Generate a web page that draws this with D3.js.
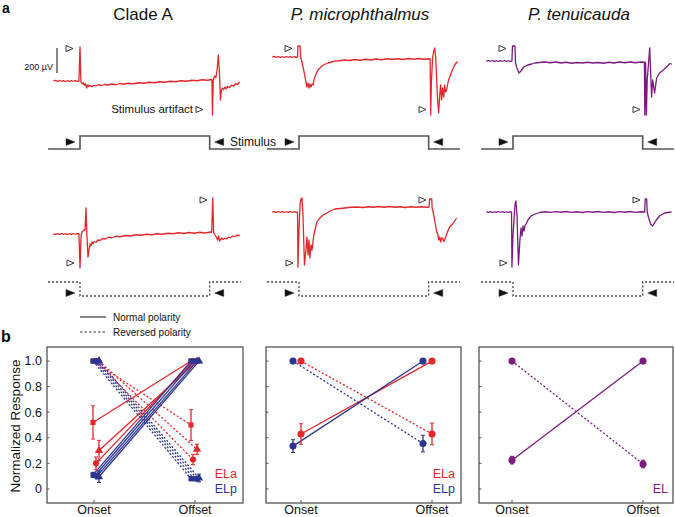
<!DOCTYPE html>
<html><head><meta charset="utf-8">
<script src="https://cdn.jsdelivr.net/npm/d3@7"></script>
<style>body{margin:0;background:#fff} svg{display:block;font-family:"Liberation Sans",Arial,sans-serif}</style>
</head><body><svg id="c" width="675" height="517"></svg>
<script>
// ---------------- DATA ----------------
const columnTitles = ["Clade A", "P. microphthalmus", "P. tenuicauda"];
const titleItalic = [false, true, true];
// recorded traces: [time (ms, stimulus-artifact onset = 0), voltage (µV rel. baseline)]
const cladeA_normal = [[-200,0],[-185,5],[-170,-3],[-155,4],[-140,-2],[-125,3],[-110,-4],[-95,2],[-80,-3],[-65,4],[-50,-2],[-35,3],[-20,-3],[-8,0],[0,272],[7,-8],[15,-22],[24,-14],[32,-34],[40,-20],[50,-56],[58,-30],[68,-44],[78,-36],[90,-46],[105,-34],[120,-40],[140,-30],[160,-36],[185,-28],[210,-32],[240,-24],[270,-30],[300,-20],[330,-26],[360,-18],[400,-22],[440,-14],[480,-18],[520,-10],[560,-14],[600,-6],[640,-10],[680,-2],[720,-6],[760,2],[800,-2],[840,6],[880,2],[920,10],[960,6],[988,12],[992,8],[996,-272],[1002,10],[1012,40],[1022,28],[1032,100],[1040,208],[1048,80],[1056,-152],[1063,-72],[1072,-56],[1080,-70],[1090,-48],[1100,-62],[1112,-44],[1125,-52],[1140,-34],[1155,-40],[1170,-22],[1185,-26],[1200,-6]];
const micro_normal = [[-200,0],[-185,4],[-170,-3],[-155,3],[-140,-4],[-125,2],[-110,-3],[-95,4],[-80,-2],[-65,3],[-50,-4],[-35,2],[-20,-2],[-11,0],[-8,88],[8,88],[12,0],[22,-40],[38,-120],[52,-200],[60,-240],[68,-208],[75,-248],[82,-216],[90,-240],[98,-216],[106,-224],[112,-184],[128,-136],[142,-104],[158,-88],[172,-72],[195,-58],[218,-48],[245,-40],[270,-32],[300,-30],[345,-24],[380,-28],[420,-20],[460,-26],[500,-18],[540,-24],[580,-16],[620,-22],[660,-14],[700,-20],[740,-14],[780,-20],[820,-12],[860,-18],[900,-12],[940,-18],[975,-14],[986,-16],[990,-464],[996,-184],[1005,0],[1012,40],[1020,72],[1028,-8],[1042,-344],[1050,-448],[1058,-304],[1065,-224],[1072,-344],[1080,-248],[1088,-320],[1095,-224],[1102,-280],[1110,-264],[1118,-216],[1125,-184],[1140,-140],[1155,-100],[1170,-64],[1185,-44],[1195,-36]];
const tenui_normal = [[-200,0],[-185,3],[-170,-2],[-155,4],[-140,-3],[-125,2],[-110,-4],[-95,3],[-80,-2],[-65,4],[-50,-3],[-35,2],[-20,-3],[-8,0],[-4,120],[15,120],[19,-16],[30,-56],[45,-96],[60,-80],[82,-48],[112,-32],[140,-24],[165,-16],[200,-12],[240,-8],[280,-14],[320,-8],[360,-16],[400,-10],[440,-18],[480,-12],[520,-16],[560,-10],[600,-16],[640,-12],[680,-18],[720,-10],[760,-16],[800,-8],[840,-14],[880,-8],[920,-14],[960,-8],[988,-10],[991,-432],[997,-10],[1003,-432],[1009,-152],[1028,104],[1042,-288],[1050,-152],[1065,-256],[1080,-136],[1102,-96],[1130,-72],[1155,-48],[1180,-20],[1195,-26]];
const cladeA_reversed = [[-200,0],[-185,-4],[-170,3],[-155,-3],[-140,4],[-125,-2],[-110,3],[-95,-4],[-80,2],[-65,-3],[-50,4],[-35,-2],[-20,3],[-8,0],[0,-272],[8,-16],[15,16],[30,32],[38,32],[45,208],[52,-8],[60,-184],[68,-128],[75,-80],[82,-96],[90,-64],[98,-78],[105,-60],[120,-66],[135,-48],[150,-52],[170,-36],[190,-40],[215,-26],[240,-30],[270,-18],[300,-22],[340,-12],[380,-16],[420,-6],[460,-10],[500,-2],[540,-6],[580,2],[620,-2],[660,6],[700,2],[740,10],[780,4],[820,12],[860,6],[900,14],[940,8],[980,16],[990,14],[998,288],[1005,8],[1020,-16],[1035,-48],[1042,-16],[1050,-56],[1065,-32],[1075,-44],[1088,-34],[1100,-40],[1115,-24],[1130,-30],[1150,-16],[1165,-22],[1180,-10],[1200,-12]];
const micro_reversed = [[-200,0],[-185,3],[-170,-3],[-155,4],[-140,-2],[-125,3],[-110,-4],[-95,2],[-80,-3],[-65,4],[-50,-2],[-35,3],[-20,-3],[-11,0],[-8,-440],[0,-144],[8,60],[15,104],[22,112],[30,-24],[41,-424],[52,-304],[60,-200],[68,-344],[75,-224],[82,-368],[90,-264],[98,-304],[106,-230],[112,-184],[125,-120],[135,-80],[150,-56],[172,-32],[195,-16],[210,-8],[240,12],[270,24],[310,28],[345,32],[390,38],[435,40],[480,36],[520,42],[560,38],[600,44],[640,38],[680,44],[720,38],[760,42],[800,36],[840,42],[880,38],[920,42],[960,38],[978,40],[982,104],[998,104],[1001,32],[1005,16],[1020,-64],[1035,-160],[1042,-168],[1050,-224],[1058,-200],[1065,-240],[1072,-210],[1080,-208],[1088,-236],[1095,-224],[1110,-176],[1132,-120],[1155,-96],[1170,-72],[1185,-48]];
const tenui_reversed = [[-200,0],[-185,-3],[-170,3],[-155,-4],[-140,2],[-125,-3],[-110,4],[-95,-2],[-80,3],[-65,-4],[-50,2],[-35,-3],[-20,3],[-11,0],[-8,-440],[0,-184],[15,56],[22,88],[30,-24],[41,-424],[52,-224],[60,-128],[68,-192],[75,-112],[82,-152],[90,-110],[98,-96],[112,-64],[135,-32],[165,-16],[202,-4],[240,2],[280,-3],[320,3],[360,-2],[400,4],[440,-3],[480,2],[520,-4],[560,3],[600,-2],[640,4],[680,-3],[720,2],[760,-4],[800,3],[840,-2],[880,4],[920,-3],[960,2],[990,0],[994,104],[1005,104],[1009,0],[1020,-48],[1035,-96],[1050,-112],[1072,-72],[1102,-32],[1140,-8],[1192,0]];
const stimulusSpan = [-240, 1210];
const stimulusOnOff = [0, 975];
const scaleBarUV = 200;

// panel b
const phases = ["Onset", "Offset"];
const yTickValues = [0, 0.2, 0.4, 0.6, 0.8, 1.0];
const yTickLabels = ["0", "0.2", "0.4", "0.6", "0.8", "1.0"];
const normMax = 1.0;
const cladeA_ELa_markers = ["square", "triangle", "circle"];
const cladeA_ELa_onset = [0.52, 0.30, 0.20];
const cladeA_ELa_onsetErr = [0.13, 0.08, 0.05];
const cladeA_ELa_offset = [0.50, 0.31, 0.23];
const cladeA_ELa_offsetErr = [0.12, 0.04, 0.04];
const cladeA_ELp_markers = ["square", "square", "circle", "triangle"];
const cladeA_ELp_onset = [0.11, 0.105, 0.10, 0.095];
const cladeA_ELp_onsetErr = [0.02, 0.015, 0.02, 0.045];
const cladeA_ELp_offset = [0.08, 0.08, 0.08, 0.085];
const cladeA_ELp_offsetErr = [0.015, 0.01, 0.015, 0.03];
const micro_ELa_onset = [0.43], micro_ELa_onsetErr = [0.08], micro_ELa_offset = [0.43], micro_ELa_offsetErr = [0.085];
const micro_ELp_onset = [0.335], micro_ELp_onsetErr = [0.05], micro_ELp_offset = [0.355], micro_ELp_offsetErr = [0.065];
const tenui_EL_onset = [0.225], tenui_EL_onsetErr = [0.03], tenui_EL_offset = [0.195], tenui_EL_offsetErr = [0.03];
const legendLabels = ["Normal polarity", "Reversed polarity"];

// ---------------- STYLE / LAYOUT ----------------
const RED = "#e5262b", BLUE = "#2c3590", PURPLE = "#7d1a82", GRAY = "#555";
const svg = d3.select("#c");

// panel labels
svg.append("text").attr("x", 2).attr("y", 13).attr("font-size", 14).attr("font-weight", "bold").text("a");
svg.append("text").attr("x", 1).attr("y", 342).attr("font-size", 16).attr("font-weight", "bold").text("b");

const colOnsetX = [80, 299, 513];
const titleX = [143, 360, 579];
const row1Base = [81, 57, 61], row2Base = [234, 212, 212];
const traceColors = [RED, RED, PURPLE];
const normalTraces = [cladeA_normal, micro_normal, tenui_normal];
const reversedTraces = [cladeA_reversed, micro_reversed, tenui_reversed];
const pxPerMs = 0.133;

function tri(g, tipX, y, dir, filled) {
  const w = filled ? 9 : 7, h = filled ? 3.5 : 3;
  const p = d3.path();
  p.moveTo(tipX - dir * w, y - h); p.lineTo(tipX, y); p.lineTo(tipX - dir * w, y + h); p.closePath();
  g.append("path").attr("d", p.toString())
    .attr("fill", filled ? "#111" : "#fff").attr("stroke", "#222").attr("stroke-width", filled ? 0.5 : 0.9);
}

columnTitles.forEach((t, i) => {
  svg.append("text").attr("x", titleX[i]).attr("y", 20).attr("text-anchor", "middle")
    .attr("font-size", 17).attr("font-style", titleItalic[i] ? "italic" : "normal").attr("fill", "#111").text(t);

  const x = d3.scaleLinear().domain([0, 1000]).range([colOnsetX[i], colOnsetX[i] + 1000 * pxPerMs]);
  const mkY = base => d3.scaleLinear().domain([0, scaleBarUV]).range([base, base - 25]);
  const y1 = mkY(row1Base[i]), y2 = mkY(row2Base[i]);
  const line1 = d3.line().x(d => x(d[0])).y(d => y1(d[1]));
  const line2 = d3.line().x(d => x(d[0])).y(d => y2(d[1]));
  svg.append("path").attr("d", line1(normalTraces[i])).attr("fill", "none").attr("stroke", traceColors[i]).attr("stroke-width", 1.3).attr("stroke-linejoin", "round");
  svg.append("path").attr("d", line2(reversedTraces[i])).attr("fill", "none").attr("stroke", traceColors[i]).attr("stroke-width", 1.3).attr("stroke-linejoin", "round");

  // stimulus traces
  const s0 = x(stimulusSpan[0]), s1 = x(stimulusSpan[1]), on = x(stimulusOnOff[0]), off = x(stimulusOnOff[1]);
  const stim1 = [[s0, 149], [on, 149], [on, 136], [off, 136], [off, 149], [s1, 149]];
  const stim2 = [[s0, 282], [on, 282], [on, 296], [off, 296], [off, 282], [s1, 282]];
  svg.append("path").attr("d", d3.line()(stim1)).attr("fill", "none").attr("stroke", GRAY).attr("stroke-width", 1.6);
  svg.append("path").attr("d", d3.line()(stim2)).attr("fill", "none").attr("stroke", "#444").attr("stroke-width", 1.3).attr("stroke-dasharray", "2,2");
  tri(svg, on - 5, 142, 1, true); tri(svg, off + 5, 142, -1, true);
  tri(svg, on - 5, 293, 1, true); tri(svg, off + 5, 293, -1, true);

  // artifact markers
  const offX = x(1000);
  tri(svg, colOnsetX[i] - 7, 48.5, 1, false);
  tri(svg, i === 0 ? 203 : offX - 6, 109.5, 1, false);
  tri(svg, colOnsetX[i] - 6, 263, 1, false);
  tri(svg, offX - 6, 200, 1, false);
});

svg.append("text").attr("x", 193).attr("y", 113).attr("text-anchor", "end").attr("font-size", 11.5).attr("fill", "#111").text("Stimulus artifact");
svg.append("text").attr("x", 230).attr("y", 146).attr("font-size", 12).attr("fill", "#111").text("Stimulus");
// scale bar
svg.append("line").attr("x1", 57).attr("x2", 57).attr("y1", 48).attr("y2", 73).attr("stroke", "#111").attr("stroke-width", 1);
svg.append("text").attr("x", 53).attr("y", 70).attr("text-anchor", "end").attr("font-size", 9).attr("fill", "#111").text(scaleBarUV + " µV");

// legend
[0, 1].forEach(k => {
  const ly = 317 + k * 15;
  svg.append("line").attr("x1", 80).attr("x2", 106).attr("y1", ly).attr("y2", ly)
    .attr("stroke", "#333").attr("stroke-width", 1.2).attr("stroke-dasharray", k ? "2.5,2" : null);
  svg.append("text").attr("x", 113).attr("y", ly + 3.5).attr("font-size", 10).attr("fill", "#111").text(legendLabels[k]);
});

// ---- panel b plots
const frames = [[47, 243], [266, 461], [479, 673]];
const tickXs = [[94, 195], [301, 432], [512, 643]];
const yS = d3.scaleLinear().domain([-0.11, 1.11]).range([503, 347]);

function marker(type, big) {
  const t = type === "square" ? d3.symbolSquare : type === "triangle" ? d3.symbolTriangle : d3.symbolCircle;
  const size = type === "square" ? 26 : type === "triangle" ? 30 : (big ? 40 : 30);
  return d3.symbol().type(t).size(size)();
}

function drawGroup(g, x, color, markers, on, onE, off, offE, dxOn, dxOff, big) {
  const res = { lines: [], marks: [] };
  markers.forEach((m, i) => {
    const xOn = x("Onset") + dxOn[i], xOff = x("Offset") + dxOff[i];
    res.lines.push(() => {
      g.append("line").attr("x1", xOn).attr("y1", yS(on[i])).attr("x2", xOff).attr("y2", yS(normMax))
        .attr("stroke", color).attr("stroke-width", 1.3);
      g.append("line").attr("x1", xOn).attr("y1", yS(normMax)).attr("x2", xOff).attr("y2", yS(off[i]))
        .attr("stroke", color).attr("stroke-width", 1.3).attr("stroke-dasharray", "2,2");
    });
    res.marks.push(() => {
      [[xOn, on[i], onE[i]], [xOff, off[i], offE[i]]].forEach(([xx, v, e]) => {
        g.append("line").attr("x1", xx).attr("x2", xx).attr("y1", yS(v - e)).attr("y2", yS(v + e)).attr("stroke", color).attr("stroke-width", 1.3);
        [v - e, v + e].forEach(c => g.append("line").attr("x1", xx - 2).attr("x2", xx + 2).attr("y1", yS(c)).attr("y2", yS(c)).attr("stroke", color).attr("stroke-width", 1));
      });
      [[xOn, on[i]], [xOff, normMax], [xOn, normMax], [xOff, off[i]]].forEach(([xx, v]) =>
        g.append("path").attr("d", marker(m, big)).attr("transform", `translate(${xx},${yS(v)})`).attr("fill", color));
    });
  });
  return res;
}

frames.forEach((f, p) => {
  const g = svg.append("g");
  const x = d3.scalePoint().domain(phases).range(tickXs[p]);
  g.append("rect").attr("x", f[0]).attr("y", 347).attr("width", f[1] - f[0]).attr("height", 156)
    .attr("fill", "none").attr("stroke", GRAY).attr("stroke-width", 1.3);
  yTickValues.forEach(v => g.append("line").attr("x1", f[0]).attr("x2", f[0] + 2.5).attr("y1", yS(v)).attr("y2", yS(v)).attr("stroke", GRAY));
  phases.forEach(ph => {
    g.append("line").attr("x1", x(ph)).attr("x2", x(ph)).attr("y1", 503).attr("y2", 500).attr("stroke", GRAY);
    g.append("text").attr("x", x(ph)).attr("y", 514).attr("text-anchor", "middle").attr("font-size", 12.5).attr("fill", "#111").text(ph);
  });
  let groups = [];
  if (p === 0) {
    groups.push(drawGroup(g, x, RED, cladeA_ELa_markers, cladeA_ELa_onset, cladeA_ELa_onsetErr, cladeA_ELa_offset, cladeA_ELa_offsetErr, [-1, 5, 2], [-4, 2, -2], false));
    groups.push(drawGroup(g, x, BLUE, cladeA_ELp_markers, cladeA_ELp_onset, cladeA_ELp_onsetErr, cladeA_ELp_offset, cladeA_ELp_offsetErr, [-1, 1, 3, 5], [-4, -1, 2, 4], false));
  } else if (p === 1) {
    groups.push(drawGroup(g, x, RED, ["circle"], micro_ELa_onset, micro_ELa_onsetErr, micro_ELa_offset, micro_ELa_offsetErr, [0], [0], true));
    groups.push(drawGroup(g, x, BLUE, ["circle"], micro_ELp_onset, micro_ELp_onsetErr, micro_ELp_offset, micro_ELp_offsetErr, [-8], [-9], true));
  } else {
    groups.push(drawGroup(g, x, PURPLE, ["circle"], tenui_EL_onset, tenui_EL_onsetErr, tenui_EL_offset, tenui_EL_offsetErr, [0], [0], true));
  }
  groups.forEach(gr => gr.lines.forEach(fn => fn()));
  groups.forEach(gr => gr.marks.forEach(fn => fn()));
  if (p < 2) {
    g.append("text").attr("x", f[1] - 6).attr("y", 477.5).attr("text-anchor", "end").attr("font-size", 12.5).attr("fill", RED).text("ELa");
    g.append("text").attr("x", f[1] - 6).attr("y", 492.5).attr("text-anchor", "end").attr("font-size", 12.5).attr("fill", BLUE).text("ELp");
  } else {
    g.append("text").attr("x", f[1] - 5).attr("y", 492.5).attr("text-anchor", "end").attr("font-size", 12.5).attr("fill", PURPLE).text("EL");
  }
});
// y axis labels (first panel)
yTickValues.forEach((v, i) => svg.append("text").attr("x", 42).attr("y", yS(v) + 4.3).attr("text-anchor", "end")
  .attr("font-size", 12.5).attr("fill", "#111").text(yTickLabels[i]));
svg.append("text").attr("transform", "translate(20,426) rotate(-90)").attr("text-anchor", "middle")
  .attr("font-size", 13.5).attr("fill", "#111").text("Normalized Response");
</script></body></html>
